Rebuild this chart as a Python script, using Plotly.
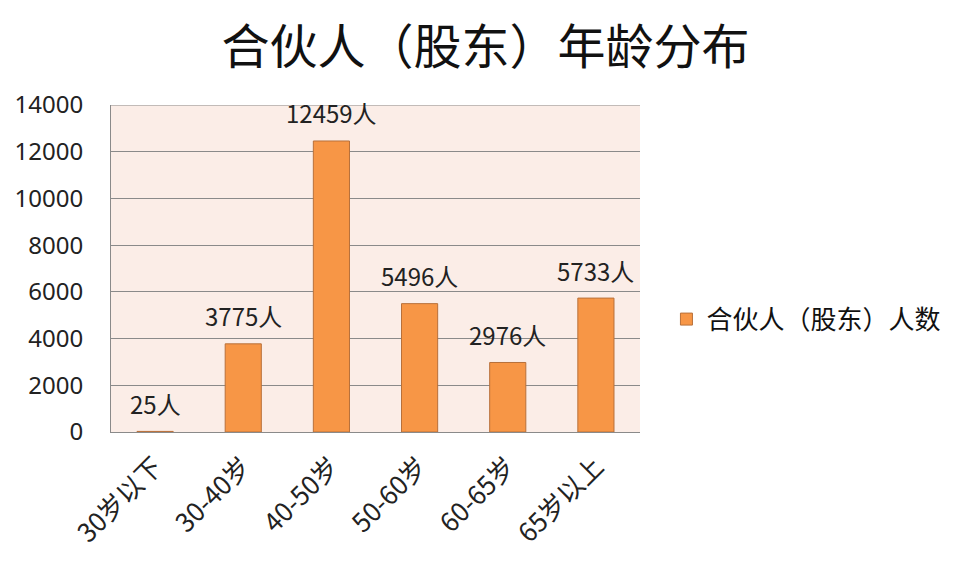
import plotly.graph_objects as go

categories = ["30岁以下", "30-40岁", "40-50岁", "50-60岁", "60-65岁", "65岁以上"]
values = [25, 3775, 12459, 5496, 2976, 5733]
labels = [f"{v}人" for v in values]
series_name = "合伙人（股东）人数"
title = "合伙人（股东）年龄分布"

fig = go.Figure()
fig.add_trace(go.Bar(
    x=categories, y=values, name=series_name,
    marker=dict(color="#F79646", line=dict(color="#B8703A", width=1)),
    showlegend=True,
))
for c, v, t in zip(categories, values, labels):
    fig.add_annotation(x=c, y=v, text=t, showarrow=False, yanchor="middle", yshift=28,
                       font=dict(size=24, color="#222222", family="Noto Sans CJK SC"))

fig.update_layout(
    width=959, height=566,
    margin=dict(l=103, r=327, t=97, b=142),
    paper_bgcolor="white", plot_bgcolor="#FBEDE7",
    bargap=0.59,
    title=dict(text=title, x=0.498, xanchor="center", y=0.93, yanchor="middle",
               font=dict(size=48, color="#111111", family="Noto Sans CJK SC")),
    font=dict(family="Noto Sans CJK SC", color="#222222"),
    legend=dict(x=1.05, xanchor="left", y=0.345, yanchor="middle",
                font=dict(size=26, color="#111111", family="Noto Sans CJK SC"),
                bgcolor="rgba(0,0,0,0)"),
    xaxis=dict(tickangle=-45, tickfont=dict(size=26, family="Noto Sans CJK SC", color="#222222"),
               showline=True, linecolor="#8a8a8a", linewidth=1, ticks="", showgrid=False,
               automargin=False, ticklabelstandoff=8),
    yaxis=dict(range=[0, 14000], dtick=2000, tickfont=dict(size=24, family="Noto Sans", color="#222222"),
               showline=True, linecolor="#8a8a8a", linewidth=1, gridcolor="#8a8a8a", gridwidth=1,
               zeroline=False, ticks="", tickformat="d", automargin=False, ticklabelstandoff=22),
)
fig.add_shape(type="line", xref="paper", yref="y", x0=0, x1=1, y0=14000, y1=14000,
              line=dict(color="#8a8a8a", width=1))

fig.write_html("out.html")
